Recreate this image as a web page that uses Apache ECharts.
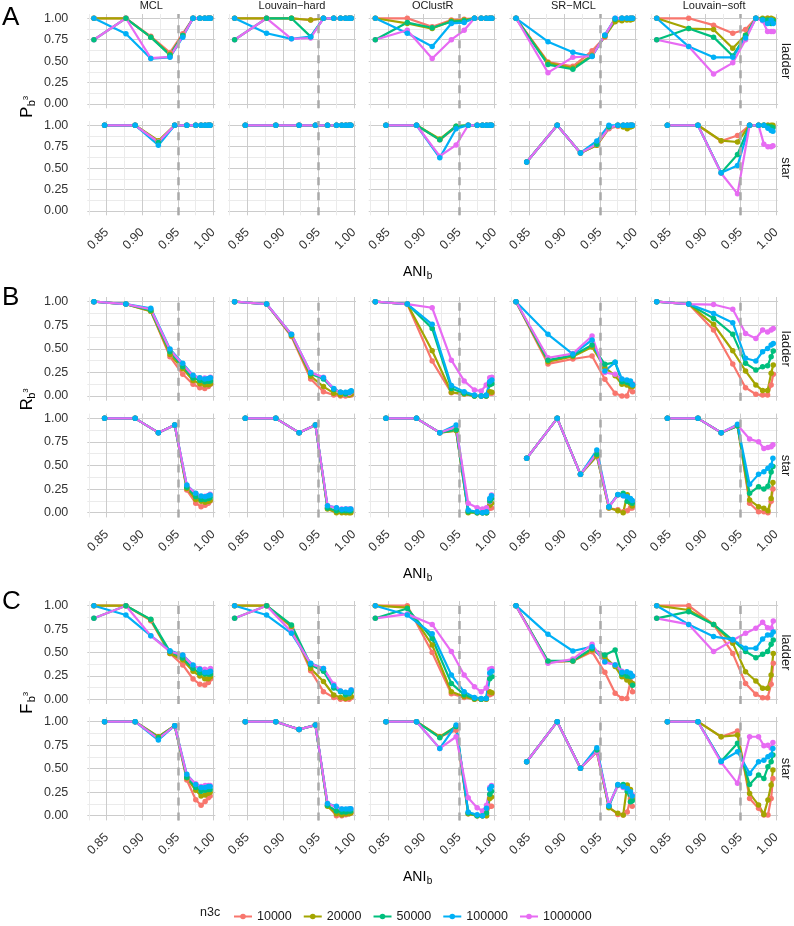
<!DOCTYPE html>
<html><head><meta charset="utf-8">
<script src="https://cdn.jsdelivr.net/npm/echarts@6/dist/echarts.min.js"></script>
<style>html,body{margin:0;padding:0;background:#fff}#c{width:794px;height:926px}</style>
</head><body><div id="c"></div>
<script>
// ---------------- data ----------------
const methods = ['MCL', 'Louvain\u2212hard', 'OClustR', 'SR\u2212MCL', 'Louvain\u2212soft'];
const rowNames = ['ladder', 'star'];
const n3cLevels = ['10000', '20000', '50000', '100000', '1000000'];
const xLadder = [0.832, 0.877, 0.912, 0.939, 0.957, 0.9715, 0.981, 0.988, 0.993, 0.996];
const xStar = [0.847, 0.890, 0.9227, 0.9457, 0.9627, 0.9753, 0.9828, 0.9885, 0.993, 0.9955];
const xTickLabels = [0.85, 0.90, 0.95, 1.00];
const yTickLabels = [0, 0.25, 0.5, 0.75, 1];
const xGridValues = [0.825, 0.85, 0.875, 0.9, 0.925, 0.95, 0.975, 1.0];
const yGridValues = [0, 0.125, 0.25, 0.375, 0.5, 0.625, 0.75, 0.875, 1];
const aniThreshold = 0.95;

// each facet: rows = n3c 10000, 20000, 50000, 100000, 1000000
// ---- A: precision ----
const P_ladder_MCL = [
  [1, 1, 0.79, 0.60, 0.82, 1, 1, 1, 1, 1],
  [1, 1, 0.78, 0.58, 0.80, 1, 1, 1, 1, 1],
  [0.75, 1, 0.78, 0.57, 0.80, 1, 1, 1, 1, 1],
  [1, 0.82, 0.53, 0.545, 0.78, 1, 1, 1, 1, 1],
  [0.75, 1, 0.535, 0.55, 0.79, 1, 1, 1, 1, 1]];
const P_ladder_LouvainHard = [
  [1, 1, 1, 0.98, 1, 1, 1, 1, 1, 1],
  [1, 1, 1, 0.98, 1, 1, 1, 1, 1, 1],
  [0.75, 1, 1, 0.786, 1, 1, 1, 1, 1, 1],
  [1, 0.825, 0.76, 0.786, 1, 1, 1, 1, 1, 1],
  [0.75, 1, 0.76, 0.77, 1, 1, 1, 1, 1, 1]];
const P_ladder_OClustR = [
  [1, 1, 0.90, 0.98, 0.99, 1, 1, 1, 1, 1],
  [1, 0.94, 0.88, 0.97, 0.98, 1, 1, 1, 1, 1],
  [0.75, 0.95, 0.89, 0.96, 0.97, 1, 1, 1, 1, 1],
  [1, 0.825, 0.67, 0.94, 0.95, 1, 1, 1, 1, 1],
  [0.75, 0.86, 0.53, 0.75, 0.86, 1, 1, 1, 1, 1]];
const P_ladder_SRMCL = [
  [1, 0.49, 0.44, 0.62, 0.78, 0.99, 1, 1, 1, 1],
  [1, 0.48, 0.42, 0.57, 0.79, 0.96, 0.97, 0.98, 0.98, 0.99],
  [1, 0.46, 0.405, 0.56, 0.80, 0.99, 1, 1, 1, 1],
  [1, 0.727, 0.603, 0.553, 0.805, 1, 1, 1, 1, 1],
  [1, 0.366, 0.545, 0.56, 0.80, 1, 1, 1, 1, 1]];
const P_ladder_LouvainSoft = [
  [1, 1, 0.92, 0.825, 0.87, 1, 0.99, 1, 0.99, 0.98],
  [1, 0.88, 0.87, 0.65, 0.805, 1, 1, 1, 1, 0.99],
  [0.75, 0.88, 0.78, 0.56, 0.80, 1, 0.99, 0.98, 0.94, 0.97],
  [1, 0.67, 0.545, 0.545, 0.77, 1, 0.98, 0.94, 0.98, 0.94],
  [0.75, 0.67, 0.35, 0.48, 0.75, 1, 0.97, 0.845, 0.845, 0.845]];
const P_star_MCL = [
  [1, 1, 0.81, 1, 1, 1, 1, 1, 1, 1],
  [1, 1, 0.82, 1, 1, 1, 1, 1, 1, 1],
  [1, 1, 0.80, 1, 1, 1, 1, 1, 1, 1],
  [1, 1, 0.767, 1, 1, 1, 1, 1, 1, 1],
  [1, 1, 0.805, 1, 1, 1, 1, 1, 1, 1]];
const P_star_LouvainHard = [
  [1, 1, 1, 1, 1, 1, 1, 1, 1, 1],
  [1, 1, 1, 1, 1, 1, 1, 1, 1, 1],
  [1, 1, 1, 1, 1, 1, 1, 1, 1, 1],
  [1, 1, 1, 1, 1, 1, 1, 1, 1, 1],
  [1, 1, 1, 1, 1, 1, 1, 1, 1, 1]];
const P_star_OClustR = [
  [1, 1, 0.83, 0.98, 1, 1, 1, 1, 1, 1],
  [1, 1, 0.84, 0.99, 1, 1, 1, 1, 1, 1],
  [1, 1, 0.83, 0.99, 1, 1, 1, 1, 1, 1],
  [1, 1, 0.62, 0.96, 1, 1, 1, 1, 1, 1],
  [1, 1, 0.64, 0.77, 1, 1, 1, 1, 1, 1]];
const P_star_SRMCL = [
  [0.572, 1, 0.677, 0.767, 0.96, 0.99, 1, 1, 1, 1],
  [0.572, 1, 0.677, 0.767, 0.97, 1, 0.98, 0.96, 0.98, 0.99],
  [0.572, 1, 0.677, 0.78, 0.98, 1, 1, 1, 1, 1],
  [0.572, 1, 0.677, 0.817, 1, 1, 1, 1, 1, 1],
  [0.572, 1, 0.677, 0.78, 0.97, 1, 1, 1, 1, 1]];
const P_star_LouvainSoft = [
  [1, 1, 0.817, 0.88, 1, 1, 1, 1, 0.99, 0.98],
  [1, 1, 0.82, 0.805, 1, 1, 1, 1, 1, 1],
  [1, 1, 0.445, 0.66, 1, 1, 1, 0.99, 0.98, 0.97],
  [1, 1, 0.445, 0.53, 1, 1, 1, 0.965, 0.94, 0.93],
  [1, 1, 0.44, 0.2, 1, 1, 0.78, 0.75, 0.75, 0.76]];

// ---- B: recall ----
const R_ladder_MCL = [
  [1, 0.975, 0.90, 0.417, 0.23, 0.124, 0.088, 0.08, 0.10, 0.124],
  [1, 0.975, 0.90, 0.44, 0.29, 0.165, 0.13, 0.12, 0.12, 0.13],
  [1, 0.975, 0.91, 0.47, 0.31, 0.19, 0.165, 0.15, 0.155, 0.16],
  [1, 0.975, 0.93, 0.498, 0.346, 0.22, 0.194, 0.18, 0.185, 0.194],
  [1, 0.975, 0.92, 0.49, 0.335, 0.215, 0.19, 0.19, 0.18, 0.20]];
const R_ladder_LouvainHard = [
  [1, 0.975, 0.63, 0.18, 0.046, 0.01, 0, 0, 0.01, 0.01],
  [1, 0.975, 0.64, 0.21, 0.10, 0.03, 0.01, 0.02, 0.01, 0.02],
  [1, 0.975, 0.65, 0.235, 0.18, 0.07, 0.04, 0.02, 0.04, 0.05],
  [1, 0.975, 0.654, 0.25, 0.194, 0.08, 0.04, 0.04, 0.04, 0.055],
  [1, 0.975, 0.654, 0.25, 0.20, 0.075, 0.04, 0.02, 0.03, 0.045]];
const R_ladder_OClustR = [
  [1, 0.975, 0.37, 0.035, 0.02, 0, 0, 0, 0.03, 0.03],
  [1, 0.975, 0.48, 0.04, 0.02, 0, 0, 0, 0.045, 0.04],
  [1, 0.975, 0.717, 0.08, 0.03, 0, 0, 0, 0.12, 0.13],
  [1, 0.975, 0.76, 0.11, 0.046, 0.01, 0, 0.01, 0.15, 0.17],
  [1, 0.975, 0.936, 0.38, 0.16, 0.064, 0.053, 0.117, 0.194, 0.2]];
const R_ladder_SRMCL = [
  [1, 0.34, 0.392, 0.424, 0.177, 0.028, 0, 0, 0.1, 0.046],
  [1, 0.364, 0.42, 0.52, 0.3, 0.215, 0.124, 0.117, 0.1, 0.1],
  [1, 0.38, 0.43, 0.54, 0.336, 0.357, 0.15, 0.145, 0.13, 0.12],
  [1, 0.654, 0.445, 0.594, 0.265, 0.357, 0.18, 0.17, 0.16, 0.117],
  [1, 0.406, 0.45, 0.636, 0.25, 0.23, 0.177, 0.16, 0.15, 0.13]];
const R_ladder_LouvainSoft = [
  [1, 0.975, 0.70, 0.34, 0.088, 0.018, 0.01, 0.01, 0.117, 0.23],
  [1, 0.975, 0.76, 0.48, 0.265, 0.117, 0.057, 0.057, 0.24, 0.33],
  [1, 0.975, 0.823, 0.654, 0.346, 0.276, 0.31, 0.32, 0.417, 0.477],
  [1, 0.975, 0.876, 0.777, 0.40, 0.371, 0.47, 0.505, 0.54, 0.558],
  [1, 0.975, 0.97, 0.92, 0.664, 0.61, 0.70, 0.68, 0.70, 0.717]];
const R_star_MCL = [
  [1, 1, 0.848, 0.93, 0.24, 0.10, 0.064, 0.08, 0.10, 0.124],
  [1, 1, 0.848, 0.93, 0.255, 0.14, 0.12, 0.11, 0.12, 0.13],
  [1, 1, 0.848, 0.93, 0.27, 0.17, 0.14, 0.14, 0.15, 0.16],
  [1, 1, 0.848, 0.93, 0.293, 0.205, 0.177, 0.17, 0.18, 0.187],
  [1, 1, 0.848, 0.93, 0.29, 0.20, 0.17, 0.175, 0.18, 0.195]];
const R_star_LouvainHard = [
  [1, 1, 0.848, 0.93, 0.05, 0.01, 0.01, 0.01, 0.01, 0.01],
  [1, 1, 0.848, 0.93, 0.04, 0, 0, 0, 0, 0],
  [1, 1, 0.848, 0.93, 0.05, 0.02, 0.02, 0.02, 0.02, 0.02],
  [1, 1, 0.848, 0.93, 0.074, 0.053, 0.035, 0.04, 0.035, 0.04],
  [1, 1, 0.848, 0.93, 0.075, 0.05, 0.04, 0.04, 0.04, 0.04]];
const R_star_OClustR = [
  [1, 1, 0.848, 0.87, 0.01, 0, 0, 0, 0.046, 0.05],
  [1, 1, 0.848, 0.87, 0, 0, 0, 0, 0.08, 0.1],
  [1, 1, 0.848, 0.88, 0.01, 0, 0, 0, 0.124, 0.15],
  [1, 1, 0.848, 0.93, 0.028, 0.01, 0, 0.01, 0.15, 0.18],
  [1, 1, 0.848, 0.91, 0.10, 0.053, 0.04, 0.053, 0.117, 0.187]];
const R_star_SRMCL = [
  [0.576, 1, 0.406, 0.60, 0.05, 0.03, 0.01, 0.02, 0.05, 0.05],
  [0.576, 1, 0.406, 0.60, 0.05, 0.02, 0, 0.19, 0.10, 0.07],
  [0.576, 1, 0.406, 0.62, 0.06, 0.19, 0.205, 0.12, 0.12, 0.10],
  [0.576, 1, 0.406, 0.664, 0.064, 0.194, 0.18, 0.17, 0.15, 0.13],
  [0.576, 1, 0.406, 0.63, 0.06, 0.187, 0.18, 0.16, 0.14, 0.12]];
const R_star_LouvainSoft = [
  [1, 1, 0.848, 0.92, 0.10, 0.01, 0.01, 0, 0.12, 0.25],
  [1, 1, 0.848, 0.92, 0.134, 0.064, 0.046, 0.02, 0.15, 0.32],
  [1, 1, 0.848, 0.92, 0.205, 0.276, 0.25, 0.28, 0.43, 0.49],
  [1, 1, 0.848, 0.936, 0.30, 0.406, 0.435, 0.47, 0.50, 0.576],
  [1, 1, 0.848, 0.93, 0.78, 0.753, 0.68, 0.69, 0.70, 0.72]];

// ---- C: F-measure ----
const F_ladder_MCL = [
  [1, 1, 0.84, 0.49, 0.367, 0.217, 0.16, 0.153, 0.18, 0.217],
  [1, 1, 0.85, 0.49, 0.42, 0.30, 0.25, 0.22, 0.22, 0.24],
  [0.865, 1, 0.854, 0.51, 0.44, 0.33, 0.28, 0.27, 0.27, 0.27],
  [1, 0.90, 0.68, 0.52, 0.473, 0.367, 0.32, 0.29, 0.29, 0.30],
  [0.865, 1, 0.68, 0.51, 0.47, 0.36, 0.33, 0.32, 0.31, 0.33]];
const F_ladder_LouvainHard = [
  [1, 1, 0.77, 0.306, 0.082, 0.02, 0, 0, 0, 0.02],
  [1, 1, 0.78, 0.33, 0.19, 0.046, 0.02, 0.01, 0.02, 0.03],
  [0.865, 1, 0.794, 0.37, 0.30, 0.12, 0.08, 0.05, 0.06, 0.08],
  [1, 0.90, 0.705, 0.384, 0.33, 0.146, 0.09, 0.075, 0.07, 0.10],
  [0.865, 1, 0.72, 0.38, 0.33, 0.16, 0.09, 0.07, 0.06, 0.10]];
const F_ladder_OClustR = [
  [1, 1, 0.50, 0.06, 0.02, 0, 0, 0, 0.05, 0.06],
  [1, 0.98, 0.58, 0.08, 0.03, 0, 0, 0, 0.08, 0.07],
  [0.865, 0.97, 0.65, 0.17, 0.05, 0.01, 0, 0.01, 0.22, 0.24],
  [1, 0.90, 0.70, 0.26, 0.08, 0.02, 0.01, 0.01, 0.28, 0.30],
  [0.865, 0.91, 0.80, 0.51, 0.26, 0.135, 0.08, 0.12, 0.32, 0.33]];
const F_ladder_SRMCL = [
  [1, 0.40, 0.41, 0.509, 0.288, 0.064, 0.01, 0.01, 0.19, 0.08],
  [1, 0.40, 0.41, 0.527, 0.45, 0.35, 0.24, 0.206, 0.18, 0.17],
  [1, 0.41, 0.41, 0.544, 0.473, 0.527, 0.267, 0.25, 0.24, 0.15],
  [1, 0.694, 0.516, 0.562, 0.402, 0.367, 0.288, 0.295, 0.278, 0.25],
  [1, 0.384, 0.43, 0.587, 0.395, 0.37, 0.30, 0.28, 0.27, 0.25]];
const F_ladder_LouvainSoft = [
  [1, 1, 0.80, 0.49, 0.17, 0.053, 0.018, 0.018, 0.16, 0.384],
  [1, 0.954, 0.80, 0.60, 0.295, 0.196, 0.117, 0.117, 0.26, 0.49],
  [0.865, 0.936, 0.80, 0.633, 0.51, 0.445, 0.48, 0.51, 0.587, 0.633],
  [1, 0.80, 0.67, 0.64, 0.545, 0.545, 0.644, 0.687, 0.687, 0.72],
  [0.865, 0.80, 0.51, 0.63, 0.705, 0.758, 0.822, 0.765, 0.758, 0.836]];
const F_star_MCL = [
  [1, 1, 0.84, 0.957, 0.38, 0.17, 0.11, 0.15, 0.19, 0.21],
  [1, 1, 0.84, 0.957, 0.40, 0.27, 0.21, 0.22, 0.24, 0.25],
  [1, 1, 0.83, 0.957, 0.41, 0.30, 0.26, 0.27, 0.28, 0.28],
  [1, 1, 0.805, 0.957, 0.44, 0.333, 0.30, 0.30, 0.31, 0.31],
  [1, 1, 0.82, 0.957, 0.43, 0.34, 0.31, 0.32, 0.32, 0.32]];
const F_star_LouvainHard = [
  [1, 1, 0.918, 0.964, 0.11, 0, 0, 0.01, 0.02, 0.03],
  [1, 1, 0.918, 0.964, 0.10, 0.02, 0.01, 0.02, 0.02, 0.03],
  [1, 1, 0.918, 0.964, 0.11, 0.05, 0.04, 0.04, 0.05, 0.05],
  [1, 1, 0.918, 0.964, 0.13, 0.10, 0.07, 0.07, 0.07, 0.075],
  [1, 1, 0.918, 0.964, 0.13, 0.09, 0.07, 0.06, 0.07, 0.07]];
const F_star_OClustR = [
  [1, 1, 0.84, 0.91, 0.02, 0, 0, 0, 0.10, 0.10],
  [1, 1, 0.84, 0.95, 0.02, 0, 0, 0, 0.184, 0.20],
  [1, 1, 0.83, 0.95, 0.03, 0, 0, 0.03, 0.227, 0.26],
  [1, 1, 0.716, 0.964, 0.04, 0.01, 0, 0.08, 0.284, 0.31],
  [1, 1, 0.716, 0.84, 0.19, 0.085, 0.05, 0.11, 0.30, 0.32]];
const F_star_SRMCL = [
  [0.574, 1, 0.504, 0.68, 0.09, 0.014, 0.007, 0.04, 0.18, 0.10],
  [0.574, 1, 0.504, 0.68, 0.085, 0.025, 0.007, 0.326, 0.28, 0.18],
  [0.574, 1, 0.504, 0.70, 0.10, 0.326, 0.333, 0.26, 0.149, 0.16],
  [0.574, 1, 0.504, 0.723, 0.106, 0.333, 0.31, 0.29, 0.255, 0.21],
  [0.574, 1, 0.504, 0.68, 0.12, 0.32, 0.30, 0.28, 0.25, 0.22]];
const F_star_LouvainSoft = [
  [1, 1, 0.84, 0.90, 0.184, 0.078, 0.007, 0.007, 0.184, 0.397],
  [1, 1, 0.84, 0.858, 0.237, 0.113, 0.014, 0.167, 0.326, 0.486],
  [1, 1, 0.58, 0.77, 0.333, 0.433, 0.397, 0.52, 0.574, 0.645],
  [1, 1, 0.58, 0.68, 0.45, 0.574, 0.59, 0.628, 0.645, 0.716],
  [1, 1, 0.567, 0.344, 0.84, 0.84, 0.745, 0.75, 0.72, 0.78]];

// ---------------- assembly ----------------
const panelDefs = [
  { letter: 'A', metric: 'P', rows: [
    [P_ladder_MCL, P_ladder_LouvainHard, P_ladder_OClustR, P_ladder_SRMCL, P_ladder_LouvainSoft],
    [P_star_MCL, P_star_LouvainHard, P_star_OClustR, P_star_SRMCL, P_star_LouvainSoft]] },
  { letter: 'B', metric: 'R', rows: [
    [R_ladder_MCL, R_ladder_LouvainHard, R_ladder_OClustR, R_ladder_SRMCL, R_ladder_LouvainSoft],
    [R_star_MCL, R_star_LouvainHard, R_star_OClustR, R_star_SRMCL, R_star_LouvainSoft]] },
  { letter: 'C', metric: 'F', rows: [
    [F_ladder_MCL, F_ladder_LouvainHard, F_ladder_OClustR, F_ladder_SRMCL, F_ladder_LouvainSoft],
    [F_star_MCL, F_star_LouvainHard, F_star_OClustR, F_star_SRMCL, F_star_LouvainSoft]] }
];

// layout (pixels)
const FONT = '"Liberation Sans", Arial, Helvetica, sans-serif';
const colors = ['#F8766D', '#A3A500', '#00BF7D', '#00B0F6', '#E76BF3'];
const pointOrder = [0, 1, 4, 2, 3];
const colLeft0 = 87.3, colStep = 140.7, colW = 128;
const rowTop = [14.0, 121.0, 297.0, 413.6, 601.0, 717.0];
const rowH = [94.3, 94.3, 103.7, 103.8, 103.0, 103.4];
const xTitleY = [272, 574, 877];
const letterY = [17.5, 298, 602];
const majorCol = '#cccccc', minorCol = '#ebebeb';

const grids = [], xAxes = [], yAxes = [], series = [], graphics = [];
let gi = 0;
panelDefs.forEach((p, pi) => {
  p.rows.forEach((rowFacets, ri) => {
    const r = pi * 2 + ri;
    const xs = ri === 0 ? xLadder : xStar;
    rowFacets.forEach((facet, ci) => {
      grids.push({ left: colLeft0 + colStep * ci, top: rowTop[r], width: colW, height: rowH[r], outerBoundsMode: 'none', containLabel: false });
      xAxes.push({
        type: 'value', gridIndex: gi, min: 0.8227, max: 1.0028,
        axisLine: { show: false },
        axisTick: { show: false, customValues: xGridValues },
        axisLabel: { show: ri === 1, customValues: xTickLabels, rotate: 45, margin: 15,
          formatter: v => v.toFixed(2), fontSize: 12.5, color: '#333333', fontFamily: FONT },
        splitLine: { show: true, lineStyle: { color: [minorCol, majorCol], width: 1 } }
      });
      yAxes.push({
        type: 'value', gridIndex: gi, min: -0.05, max: 1.05,
        axisLine: { show: false },
        axisTick: { show: false, customValues: yGridValues },
        axisLabel: { show: ci === 0, customValues: yTickLabels, margin: 19,
          formatter: v => v.toFixed(2), fontSize: 12.5, color: '#333333', fontFamily: FONT },
        splitLine: { show: true, lineStyle: { color: [majorCol, minorCol], width: 1 } }
      });
      facet.forEach((vals, si) => {
        series.push({
          type: 'line', name: n3cLevels[si], xAxisIndex: gi, yAxisIndex: gi,
          data: xs.map((x, k) => [x, vals[k]]),
          symbol: 'circle', symbolSize: 5, showSymbol: false,
          lineStyle: { width: 2.2, color: colors[si] }, itemStyle: { color: colors[si] },
          z: 2, silent: true, animation: false
        });
      });
      pointOrder.forEach(si => {
        const vals = facet[si];
        series.push({
          type: 'scatter', name: n3cLevels[si], xAxisIndex: gi, yAxisIndex: gi,
          data: xs.map((x, k) => [x, vals[k]]),
          symbol: 'circle', symbolSize: 5.5, itemStyle: { color: colors[si], opacity: 1 },
          z: 3, silent: true, animation: false
        });
      });
      series.push({
        type: 'line', xAxisIndex: gi, yAxisIndex: gi, data: [], z: 4, silent: true, animation: false,
        markLine: { silent: true, symbol: ['none', 'none'], label: { show: false }, animation: false,
          lineStyle: { color: '#a9a9a9', width: 2.5, type: [8, 7] },
          data: [{ xAxis: aniThreshold }] }
      });
      gi++;
    });
    // right strip label
    graphics.push({ type: 'text', x: 786, y: rowTop[r] + rowH[r] / 2, rotation: -Math.PI / 2,
      style: { text: rowNames[ri], align: 'center', verticalAlign: 'middle', fontSize: 13, fill: '#1a1a1a', fontFamily: FONT } });
  });
  // panel letter
  graphics.push({ type: 'text', x: 2, y: letterY[pi],
    style: { text: p.letter, align: 'left', verticalAlign: 'middle', fontSize: 26, fill: '#000', fontFamily: FONT } });
  // y title (rotated)
  const mid = (rowTop[pi * 2] + rowTop[pi * 2 + 1] + rowH[pi * 2 + 1]) / 2 - 9;
  graphics.push({ type: 'group', x: 27, y: mid, rotation: Math.PI / 2, children: [
    { type: 'text', x: -12, y: 0, style: { text: p.metric, align: 'left', verticalAlign: 'middle', fontSize: 16.5, fill: '#000', fontFamily: FONT } },
    { type: 'text', x: -0.5, y: 5, style: { text: 'b', align: 'left', verticalAlign: 'middle', fontSize: 11, fill: '#000', fontFamily: FONT } },
    { type: 'text', x: 5.5, y: -1, style: { text: '3', align: 'left', verticalAlign: 'middle', fontSize: 8, fill: '#000', fontFamily: FONT } }
  ] });
  // x title
  graphics.push({ type: 'text', x: 403, y: xTitleY[pi],
    style: { text: 'ANI', align: 'left', verticalAlign: 'middle', fontSize: 14, fill: '#000', fontFamily: FONT } });
  graphics.push({ type: 'text', x: 426.8, y: xTitleY[pi] + 4,
    style: { text: 'b', align: 'left', verticalAlign: 'middle', fontSize: 10, fill: '#000', fontFamily: FONT } });
});
// column strip titles (top of panel A)
methods.forEach((m, ci) => {
  graphics.push({ type: 'text', x: colLeft0 + colStep * ci + colW / 2, y: 6,
    style: { text: m, align: 'center', verticalAlign: 'middle', fontSize: 11, fill: '#1a1a1a', fontFamily: FONT } });
});
// legend title
graphics.push({ type: 'text', x: 200, y: 913,
  style: { text: 'n3c', align: 'left', verticalAlign: 'middle', fontSize: 12.5, fill: '#1a1a1a', fontFamily: FONT } });

const chart = echarts.init(document.getElementById('c'), null, { renderer: 'canvas', width: 794, height: 926 });
chart.setOption({
  animation: false,
  backgroundColor: '#ffffff',
  textStyle: { fontFamily: FONT },
  grid: grids,
  xAxis: xAxes,
  yAxis: yAxes,
  series: series,
  legend: {
    data: n3cLevels, left: 228, top: 905, orient: 'horizontal', selectedMode: false,
    itemWidth: 18, itemHeight: 7, itemGap: 11,
    textStyle: { fontSize: 12.5, color: '#1a1a1a', fontFamily: FONT }
  },
  graphic: graphics
});
</script></body></html>
